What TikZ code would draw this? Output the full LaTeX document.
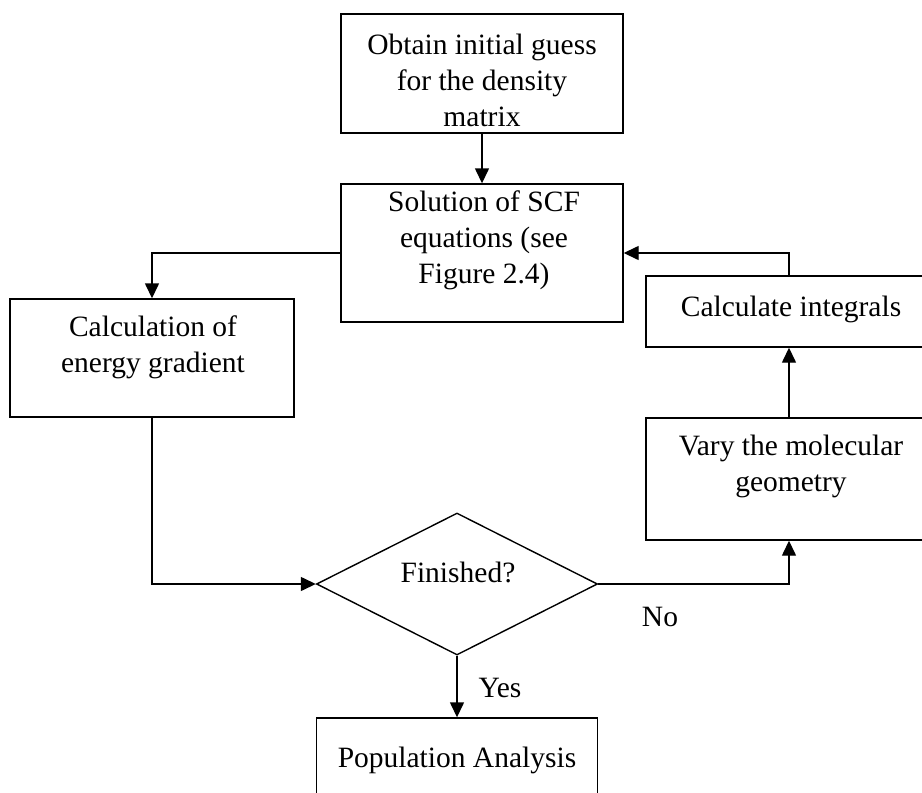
\documentclass[tikz,border=0pt]{standalone}
\usepackage{fontspec}
\setmainfont{Liberation Serif}
\usetikzlibrary{arrows.meta,shapes.geometric}
\begin{document}
\begin{tikzpicture}[x=1pt,y=-1pt,
  box/.style={draw,line width=1.4pt,rectangle,inner sep=0pt},
  txt/.style={align=center,inner sep=0pt,font=\fontsize{29.5}{36}\selectfont},
  arr/.style={line width=1.4pt,-{Triangle[length=15pt,width=14pt]}},
  dec/.style={draw,line width=1.4pt,diamond,inner sep=0pt,minimum width=281pt,minimum height=142pt}]
\useasboundingbox (0,0) rectangle (922,793);
\clip (0,0) rectangle (922,793);
% boxes
\node[box,minimum width=282pt,minimum height=119pt] (b1) at (482,73.5) {};
\node[box,minimum width=282pt,minimum height=138pt] (b2) at (482,253) {};
\node[box,minimum width=284pt,minimum height=118pt] (b3) at (152,358) {};
\node[box,minimum width=286pt,minimum height=71pt] (b4) at (789,311.5) {};
\node[box,minimum width=286pt,minimum height=122pt] (b5) at (789,479) {};
\node[dec] (d) at (457,584) {};
\node[box,minimum width=281pt,minimum height=84pt] (b6) at (457,760) {};
% texts
\node[txt] (t1) at (482,80) {Obtain initial guess\\for the density\\matrix};
\node[txt] (t2) at (484,240) {Solution of SCF\\equations (see\\Figure 2.4)};
\node[txt] (t3) at (153,347) {Calculation of\\energy gradient};
\node[txt] (t4) at (791,309) {Calculate integrals};
\node[txt] (t5) at (791,466) {Vary the molecular\\geometry};
\node[txt] (t6) at (457,760) {Population Analysis};
\node[txt] (td) at (458,572) {Finished?};
\node[txt] (yes) at (500,688) {Yes};
\node[txt] (no) at (660,617) {No};
% connectors
\draw[arr] (b1.south) -- (b2.north);
\draw[arr] (b2.west) -| (b3.north);
\draw[arr] (b3.south) |- (d.west);
\draw[arr] (d.east) -| (b5.south);
\draw[arr] (b5.north) -- (b4.south);
\draw[arr] (b4.north) |- (b2.east);
\draw[arr] (d.south) -- (b6.north);
\end{tikzpicture}
\end{document}
